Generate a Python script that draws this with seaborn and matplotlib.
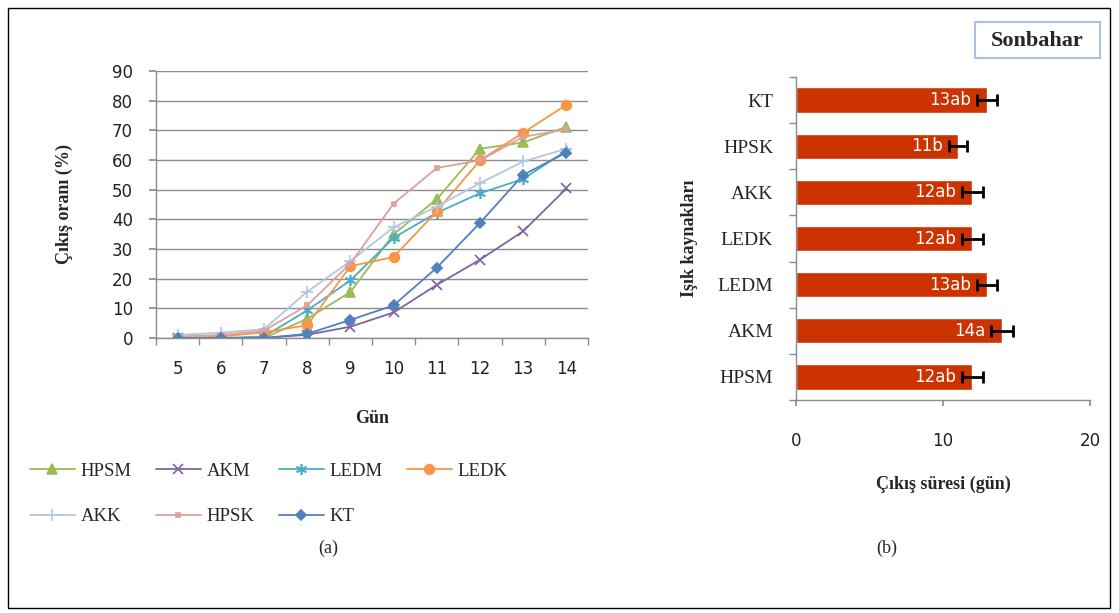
import numpy as np
import pandas as pd
import matplotlib
matplotlib.use("Agg")
import matplotlib.pyplot as plt
import seaborn as sns
from matplotlib.patches import Rectangle

# ---------------- data ----------------
days = [5, 6, 7, 8, 9, 10, 11, 12, 13, 14]
hpsm = [0, 0, 0, 6.5, 15.5, 35, 46.8, 63.8, 65.9, 71.2]
akm = [0, 0, 0, 1.1, 3.8, 8.6, 17.9, 26.4, 36, 50.4]
ledm = [0, 0, 0.5, 9.3, 19.4, 33.8, 42.2, 48.8, 53.6, 63.2]
ledk = [0, 0.5, 1.9, 4.3, 24.2, 27.3, 42.7, 59.9, 69.2, 78.6]
akk = [1, 1.8, 3, 15.6, 25.9, 37.3, 44.3, 52.2, 59.5, 63.8]
hpsk = [0.5, 1, 2.5, 11, 25.1, 45.3, 57.3, 59.9, 67.8, 70.3]
kt = [0, 0, 0, 1.4, 6.1, 11, 23.7, 38.8, 55, 62.5]

series_names = ["HPSM", "AKM", "LEDM", "LEDK", "AKK", "HPSK", "KT"]
series_vals = [hpsm, akm, ledm, ledk, akk, hpsk, kt]

bar_cats = ["KT", "HPSK", "AKK", "LEDK", "LEDM", "AKM", "HPSM"]
bar_vals = [13, 11, 12, 12, 13, 14, 12]
bar_err = [0.7, 0.6, 0.7, 0.7, 0.7, 0.75, 0.7]
bar_labels = ["13ab", "11b", "12ab", "12ab", "13ab", "14a", "12ab"]

# ---------------- style ----------------
sns.set_theme(style="white")
plt.rcParams["font.family"] = ["DejaVu Sans"]
serif = "Liberation Serif"

colors = {"HPSM": "#9BBB59", "AKM": "#8064A2", "LEDM": "#4BACC6",
          "LEDK": "#F79646", "AKK": "#B3C6E3", "HPSK": "#DDA09E", "KT": "#4F81BD"}
markers = {"HPSM": "^", "AKM": "x", "LEDM": (6, 2, 0), "LEDK": "o",
           "AKK": "+", "HPSK": "s", "KT": "D"}
msizes = {"HPSM": 7, "AKM": 7, "LEDM": 8, "LEDK": 7, "AKK": 9, "HPSK": 3, "KT": 5}

fig = plt.figure(figsize=(11.19, 6.13), dpi=100)
fig.patches.append(Rectangle((8 / 1119, 1 - 608 / 613), (1110 - 8) / 1119, (608 - 8) / 613,
                             transform=fig.transFigure, fill=False, edgecolor="black",
                             linewidth=1.0))

# ---------------- left: line chart ----------------
ax1 = fig.add_axes([156 / 1119, 1 - 338 / 613, (588 - 156) / 1119, (338 - 71) / 613])
for name, vals in zip(series_names, series_vals):
    df = pd.DataFrame({"Gün": days, "v": vals})
    sns.lineplot(data=df, x="Gün", y="v", ax=ax1, color=colors[name],
                 marker=markers[name], markersize=msizes[name],
                 markeredgecolor=colors[name], markeredgewidth=1.2,
                 linewidth=1.3, label=name)
ax1.set_xlim(4.5, 14.5)
ax1.set_ylim(0, 90)
ax1.set_yticks(np.arange(0, 91, 10))
ax1.set_xticks(days)
ax1.set_xticks(np.arange(4.5, 15, 1), minor=True)
ax1.grid(axis="y", color="#8c8c8c", linewidth=1.0)
ax1.set_axisbelow(True)
for s in ["top", "right"]:
    ax1.spines[s].set_visible(False)
for s in ["left", "bottom"]:
    ax1.spines[s].set_color("#8c8c8c")
    ax1.spines[s].set_linewidth(1.0)
ax1.tick_params(axis="x", which="major", length=0, pad=16, labelsize=12, colors="#222222")
ax1.tick_params(axis="x", which="minor", length=5, color="#8c8c8c", bottom=True)
ax1.tick_params(axis="y", length=5, color="#8c8c8c", pad=11.5, labelsize=12, left=True,
                labelcolor="#222222")
ax1.set_xlabel("Gün", fontfamily=serif, fontweight="bold", fontsize=13, labelpad=23)
ax1.set_ylabel("Çıkış oranı (%)", fontfamily=serif, fontweight="bold", fontsize=13,
               labelpad=28)
handles, labels = ax1.get_legend_handles_labels()
ax1.get_legend().remove()
hmap = dict(zip(labels, handles))
leg_order = ["HPSM", "AKK", "AKM", "HPSK", "LEDM", "KT", "LEDK"]
fig.legend([hmap[k] for k in leg_order], leg_order, loc="upper left",
           bbox_to_anchor=(13 / 1119, 1 - 446 / 613),
           ncol=4, frameon=False, prop={"family": serif, "size": 13.5},
           handlelength=2.4, handletextpad=0.3, columnspacing=1.3, labelspacing=1.5)
fig.text(328 / 1119, 1 - 548 / 613, "(a)", ha="center", va="center",
         fontfamily=serif, fontsize=13)

# ---------------- right: bar chart ----------------
ax2 = fig.add_axes([796 / 1119, 1 - 400 / 613, (1090 - 796) / 1119, (400 - 77) / 613])
dfb = pd.DataFrame({"cat": bar_cats, "val": bar_vals})
sns.barplot(data=dfb, x="val", y="cat", ax=ax2, orient="h", color="#CC3300",
            saturation=1, width=0.55, errorbar=None)
pos = np.arange(len(bar_cats))
ax2.errorbar(bar_vals, pos, xerr=bar_err, fmt="none", ecolor="black",
             elinewidth=2, capsize=4, capthick=2)
for p, v, e, lab in zip(pos, bar_vals, bar_err, bar_labels):
    ax2.text(v - e - 0.4, p, lab, ha="right", va="center", color="white", fontsize=12)
ax2.set_xlim(0, 20)
ax2.set_ylim(len(bar_cats) - 0.5, -0.5)
ax2.set_xticks([0, 10, 20])
ax2.set_yticks(pos)
ax2.set_yticks(np.arange(-0.5, len(bar_cats), 1), minor=True)
for s in ["top", "right"]:
    ax2.spines[s].set_visible(False)
for s in ["left", "bottom"]:
    ax2.spines[s].set_color("#8c8c8c")
    ax2.spines[s].set_linewidth(1.0)
ax2.tick_params(axis="x", length=4.3, color="#8c8c8c", bottom=True, pad=19,
                labelsize=12, labelcolor="#222222")
ax2.tick_params(axis="y", which="major", length=0, pad=16.5, labelsize=14)
ax2.tick_params(axis="y", which="minor", length=5, color="#8c8c8c", left=True)
for t in ax2.get_yticklabels():
    t.set_fontfamily(serif)
ax2.set_xlabel("Çıkış süresi (gün)", fontfamily=serif, fontweight="bold", fontsize=13,
               labelpad=18.5)
ax2.set_ylabel("Işık kaynakları", fontfamily=serif, fontweight="bold", fontsize=13,
               labelpad=14)
fig.patches.append(Rectangle((975 / 1119, 1 - 58 / 613), 125 / 1119, 36 / 613,
                             transform=fig.transFigure, facecolor="white",
                             edgecolor="#A9C0E0", linewidth=1.5))
fig.text(1037 / 1119, 1 - 41 / 613, "Sonbahar", ha="center", va="center",
         fontfamily=serif, fontweight="bold", fontsize=16)
fig.text(887 / 1119, 1 - 548 / 613, "(b)", ha="center", va="center",
         fontfamily=serif, fontsize=13)

fig.savefig("out.png", dpi=100)
